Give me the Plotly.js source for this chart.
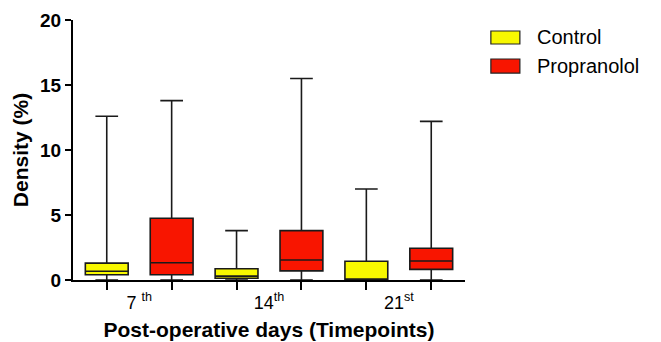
<!DOCTYPE html>
<html>
<head>
<meta charset="utf-8">
<script src="https://cdn.plot.ly/plotly-3.0.1.min.js"></script>
<style>html,body{margin:0;padding:0;background:#fff;}#chart{width:661px;height:342px;}</style>
</head>
<body>
<div id="chart"></div>
<script>
// Data
var timepoints = ["7 <sup>th</sup>", "14<sup>th</sup>", "21<sup>st</sup>"];
var seriesNames = ["Control", "Propranolol"];

var controlMin    = [0.0, 0.0, 0.0];
var controlQ1     = [0.4, 0.13, 0.0];
var controlMedian = [0.67, 0.3, 0.02];
var controlQ3     = [1.3, 0.87, 1.44];
var controlMax    = [12.6, 3.8, 7.0];

var propMin    = [0.0, 0.0, 0.0];
var propQ1     = [0.4, 0.7, 0.82];
var propMedian = [1.33, 1.54, 1.46];
var propQ3     = [4.75, 3.8, 2.44];
var propMax    = [13.8, 15.5, 12.2];

var yTicks = [0, 5, 10, 15, 20];

var controlX = timepoints.map(function(_, i){ return 2*i; });
var propX = timepoints.map(function(_, i){ return 2*i + 1; });
var allX = controlX.concat(propX).sort(function(a,b){return a-b;});
var labelX = timepoints.map(function(_, i){ return 2*i + 0.5; });

var boxLine = {color: '#1a1a1a', width: 1.6};

var traces = [
  {
    type: 'box', name: seriesNames[0], x: controlX,
    q1: controlQ1, median: controlMedian, q3: controlQ3,
    lowerfence: controlMin, upperfence: controlMax,
    fillcolor: '#f8f800', line: boxLine, width: 0.66, whiskerwidth: 0.53,
    boxpoints: false, showlegend: false, hoverinfo: 'none'
  },
  {
    type: 'box', name: seriesNames[1], x: propX,
    q1: propQ1, median: propMedian, q3: propQ3,
    lowerfence: propMin, upperfence: propMax,
    fillcolor: '#f81500', line: boxLine, width: 0.66, whiskerwidth: 0.53,
    boxpoints: false, showlegend: false, hoverinfo: 'none'
  }
];

var font = 'Arial, "Liberation Sans", sans-serif';

var layout = {
  width: 661, height: 342,
  margin: {l: 73, r: 196, t: 20, b: 62},
  paper_bgcolor: '#fff', plot_bgcolor: '#fff',
  boxmode: 'overlay',
  font: {family: font, color: '#000'},
  xaxis: {
    range: [-0.52, 5.52], tickvals: allX, showticklabels: false,
    ticks: 'outside', ticklen: 8, tickwidth: 2, tickcolor: '#000',
    showline: true, linewidth: 2, linecolor: '#000',
    showgrid: false, zeroline: false, fixedrange: true
  },
  xaxis2: {
    overlaying: 'x', anchor: 'y', side: 'bottom', matches: 'x',
    range: [-0.52, 5.52], tickvals: labelX, ticktext: timepoints,
    ticks: 'outside', ticklen: 6, tickcolor: 'rgba(0,0,0,0)',
    showline: false, showgrid: false, zeroline: false,
    tickfont: {size: 18, family: font},
    title: {text: 'Post-operative days (Timepoints)', font: {size: 21, family: font, weight: 'bold'}, standoff: 10}
  },
  yaxis: {
    range: [0, 20], tickvals: yTicks, ticks: 'outside', ticklen: 6, tickwidth: 2, tickcolor: '#000',
    showline: true, linewidth: 2, linecolor: '#000', showgrid: false, zeroline: false,
    tickfont: {size: 19, family: font, weight: 'bold'},
    title: {text: 'Density (%)', font: {size: 21, family: font, weight: 'bold'}, standoff: 6}
  },
  shapes: [
    {type: 'rect', xref: 'paper', yref: 'paper', x0: 1.066, x1: 1.14, y0: 0.9077, y1: 0.9577,
     fillcolor: '#f8f800', line: {color: '#222', width: 1.2}},
    {type: 'rect', xref: 'paper', yref: 'paper', x0: 1.066, x1: 1.14, y0: 0.796, y1: 0.85,
     fillcolor: '#f81500', line: {color: '#222', width: 1.2}}
  ],
  annotations: [
    {xref: 'paper', yref: 'paper', x: 1.179, y: 0.9346, xanchor: 'left', yanchor: 'middle',
     text: seriesNames[0], showarrow: false, font: {size: 20, family: font}},
    {xref: 'paper', yref: 'paper', x: 1.179, y: 0.823, xanchor: 'left', yanchor: 'middle',
     text: seriesNames[1], showarrow: false, font: {size: 20, family: font}}
  ]
};

// invisible trace to activate xaxis2 (category labels)
traces.push({type: 'scatter', x: [0], y: [0], xaxis: 'x2', mode: 'markers',
  marker: {opacity: 0}, showlegend: false, hoverinfo: 'none'});

Plotly.newPlot('chart', traces, layout, {displayModeBar: false, staticPlot: true});
</script>
</body>
</html>
